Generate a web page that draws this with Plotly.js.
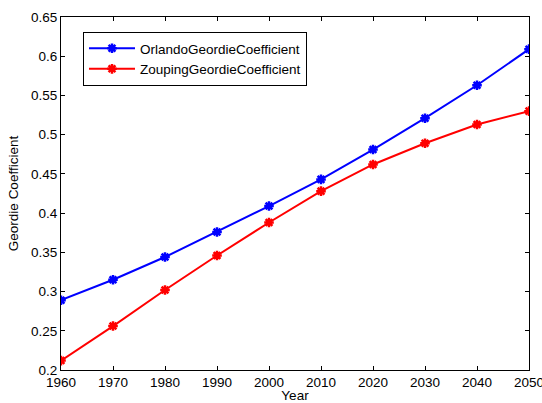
<!DOCTYPE html>
<html><head><meta charset="utf-8">
<script src="https://cdn.plot.ly/plotly-3.0.1.min.js"></script>
<style>body{margin:0;background:#fff}#c{width:542px;height:403px}</style>
</head><body><div id="c"></div>
<script>
var years = [1960,1970,1980,1990,2000,2010,2020,2030,2040,2050];
var orlando = [0.289,0.315,0.344,0.376,0.409,0.443,0.481,0.521,0.563,0.609];
var zouping = [0.212,0.256,0.302,0.346,0.388,0.428,0.462,0.489,0.513,0.530];
var seriesNames = ['OrlandoGeordieCoefficient','ZoupingGeordieCoefficient'];
var yTicks = [0.2,0.25,0.3,0.35,0.4,0.45,0.5,0.55,0.6,0.65];
var yTickText = ['0.2','0.25','0.3','0.35','0.4','0.45','0.5','0.55','0.6','0.65'];

function tr(y, name, color){
  return {x: years, y: y, name: name, type: 'scatter', mode: 'lines+markers',
    line: {color: color, width: 2},
    marker: {symbol: 'asterisk-open', size: 8, color: color, line: {color: color, width: 2.5}}};
}
var font = {family: 'Liberation Sans, Arial, sans-serif', size: 13.5, color: '#000'};
var layout = {
  width: 542, height: 403,
  margin: {l: 61, r: 13, t: 17, b: 33},
  paper_bgcolor: '#fff', plot_bgcolor: '#fff',
  font: font, showlegend: true,
  xaxis: {range: [1960, 2050], tickvals: years, ticktext: years.map(String),
    ticks: 'inside', ticklen: 4, tickcolor: '#000', showline: true, linecolor: '#000', linewidth: 1,
    mirror: 'ticks', showgrid: false, zeroline: false, automargin: false, ticklabeloverflow: 'allow',
    title: {text: 'Year', font: font, standoff: 6}},
  yaxis: {range: [0.2, 0.65], tickvals: yTicks, ticktext: yTickText,
    ticks: 'inside', ticklen: 4, tickcolor: '#000', showline: true, linecolor: '#000', linewidth: 1,
    mirror: 'ticks', showgrid: false, zeroline: false, automargin: false,
    title: {text: 'Geordie Coefficient', font: font, standoff: 9}},
  legend: {x: 0.047, y: 0.9575, xanchor: 'left', yanchor: 'top', bgcolor: '#fff',
    bordercolor: '#000', borderwidth: 1, font: font, tracegroupgap: 0, itemwidth: 46}
};
Plotly.newPlot('c', [tr(orlando, seriesNames[0], '#0000ff'), tr(zouping, seriesNames[1], '#ff0000')], layout, {displayModeBar: false, staticPlot: true});
</script></body></html>
